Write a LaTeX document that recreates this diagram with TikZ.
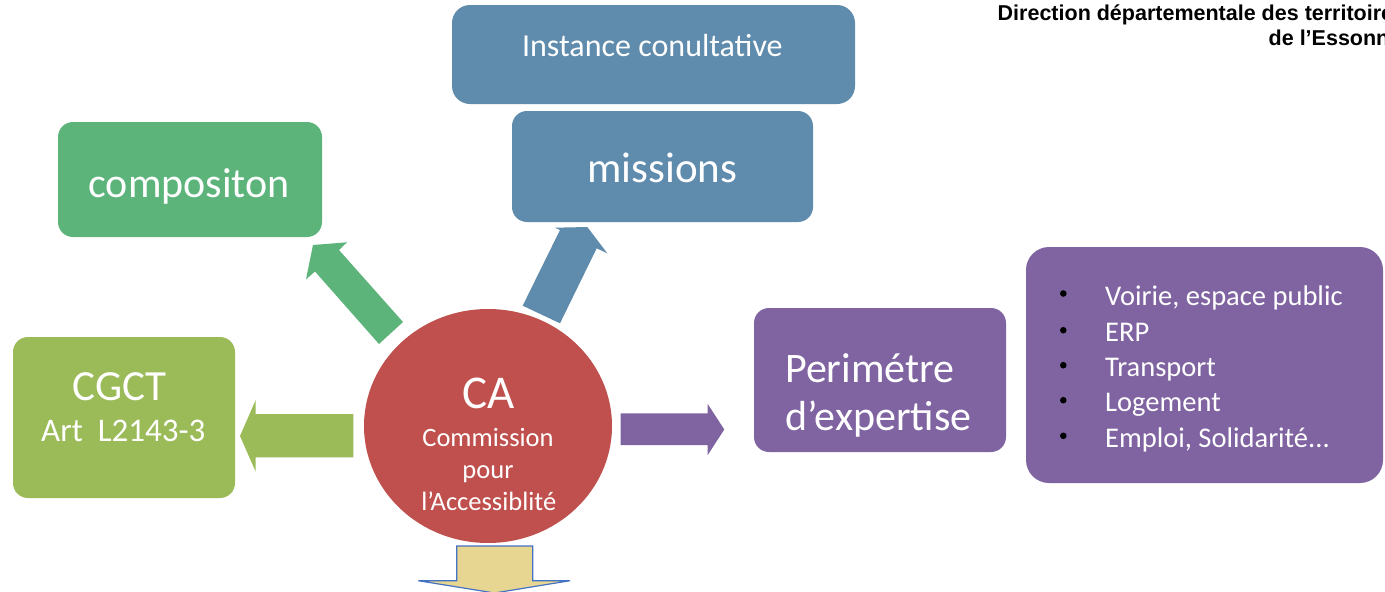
\documentclass[tikz,border=0pt]{standalone}
\usepackage{fontspec}
\setmainfont{Carlito}
\newfontfamily\hdrfont{Liberation Sans}
\usetikzlibrary{shapes.geometric}
\definecolor{cblue}{RGB}{95,139,173}
\definecolor{cgreen}{RGB}{92,180,123}
\definecolor{colive}{RGB}{155,187,89}
\definecolor{cred}{RGB}{192,80,77}
\definecolor{cpurple}{RGB}{128,100,162}
\definecolor{cyellow}{RGB}{230,214,145}
\definecolor{coutline}{RGB}{68,114,196}
\tikzset{
  box/.style={rectangle, rounded corners=15pt, inner sep=0pt, draw=none},
  txt/.style={inner sep=0pt, text=white, anchor=base},
  txtw/.style={inner sep=0pt, text=white, anchor=base west},
  fs/.style={font=\fontsize{#1}{#1}\selectfont},
  hdr/.style={inner sep=0pt, anchor=base west, font=\hdrfont\bfseries\fontsize{21.5}{21.5}\selectfont}
}
\begin{document}
\begin{tikzpicture}[x=1pt,y=-1pt]
\clip (0,0) rectangle (1385,592);
\fill[white] (0,0) rectangle (1385,592);

% header
\node[hdr] (hdr1) at (997.5,20.5) {Direction départementale des territoires};
\node[hdr] (hdr2) at (1268.5,45.7) {de l’Essonne};

% boxes
\node[box, fill=cblue, rounded corners=18pt, minimum width=403pt, minimum height=99pt] (inst) at (653.5,54.5) {};
\node[box, fill=cblue, minimum width=301pt, minimum height=111pt] (miss) at (662.5,166.5) {};
\node[box, fill=cgreen, minimum width=264pt, minimum height=115pt] (comp) at (190,179.5) {};
\node[box, fill=colive, minimum width=222pt, minimum height=161pt] (cgct) at (124,417.5) {};
\node[box, fill=cpurple, minimum width=252pt, minimum height=144pt] (peri) at (880,380) {};
\node[box, fill=cpurple, rounded corners=23pt, minimum width=357pt, minimum height=236pt] (list) at (1204.5,365) {};

% block arrows
\fill[cgreen] (403,322) -- (379,344) -- (315,271.5) -- (306,279.3) -- (313,245) -- (347,242.3) -- (339,250) -- cycle;
\fill[cblue] (522.7,305.7) -- (560,323.3) -- (596.7,248.3) -- (607.3,253.3) -- (587.3,227) -- (555,227.7) -- (560,230) -- cycle;
\fill[cpurple] (620.7,413.3) -- (707.7,413.3) -- (707.7,404) -- (724.3,429.5) -- (707.7,455) -- (707.7,445) -- (620.7,445) -- cycle;
\fill[colive] (353.3,414) -- (255.7,414) -- (255.7,400) -- (240,436) -- (255.7,471.7) -- (255.7,457.3) -- (353.3,457.3) -- cycle;
\filldraw[fill=cyellow, draw=coutline, line width=1.2pt, line join=miter] (456.7,546) -- (532.7,546) -- (532.7,580.7) -- (570,580.7) -- (494.5,593) -- (418.3,580.7) -- (456.7,580.7) -- cycle;

% central circle
\node[ellipse, fill=cred, inner sep=0pt, minimum width=248pt, minimum height=234pt] (ca) at (488,426) {};

% texts
\node[txt, fs=32] (tinst) at (652.4,56.7) {Instance conultative};
\node[txt, fs=43] (tmiss) at (662.5,182.7) {missions};
\node[txt, fs=42] (tcomp) at (189.2,197) {compositon};
\node[txt, fs=43] (tcgct1) at (119.5,400) {CGCT};
\node[txt, fs=33] (tcgct2) at (123.3,441.7) {Art~~L2143-3};
\node[txt, fs=47] (tca) at (488.7,408.3) {CA};
\node[txt, fs=26.5] (tca1) at (488,446) {Commission};
\node[txt, fs=26.5] (tca2) at (488,478.3) {pour};
\node[txt, fs=26.5] (tca3) at (488.8,510) {l’Accessiblité};
\node[txtw, fs=42] (tperi1) at (785,382.3) {Perimétre};
\node[txtw, fs=42] (tperi2) at (785,430) {d’expertise};

% list
\foreach \y/\t [count=\i] in {305/{Voirie, espace public}, 341.7/ERP, 376.7/Transport, 411.7/Logement, 447.3/{Emploi, Solidarité...}}{
  \fill[black] (1063.3,\y-11.5) circle (3.3pt);
  \node[txtw, fs=28.5] (li\i) at (1105,\y) {\t};
}
\end{tikzpicture}
\end{document}
